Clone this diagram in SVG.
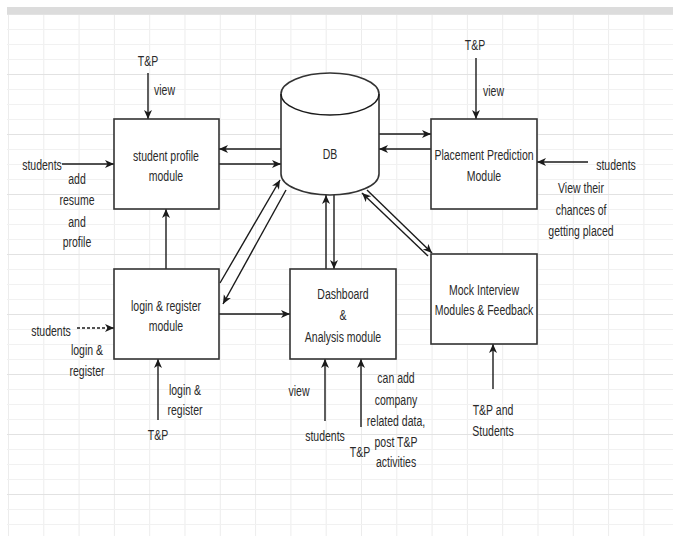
<svg xmlns="http://www.w3.org/2000/svg" width="673" height="536" viewBox="0 0 673 536">
<style>
.t{font-family:"Liberation Sans",Arial,sans-serif;font-size:15px;fill:#2a2a2a;text-anchor:middle}
.s{text-anchor:start}
.box{fill:#fff;stroke:#333;stroke-width:1.6}
.c{fill:none;stroke:#1a1a1a;stroke-width:1.4}
.dash{stroke-dasharray:3 2}
</style>
<defs>
<pattern id="grid" patternUnits="userSpaceOnUse" x="8" y="14" width="35.3" height="60">
<line x1="0.5" y1="0" x2="0.5" y2="60" stroke="#ececec" stroke-width="1"/>
<line x1="0" y1="0.5" x2="35.3" y2="0.5" stroke="#e2e2e2" stroke-width="1.2"/>
<line x1="0" y1="15.5" x2="35.3" y2="15.5" stroke="#f1f1f1" stroke-width="1"/>
<line x1="0" y1="30.5" x2="35.3" y2="30.5" stroke="#f1f1f1" stroke-width="1"/>
<line x1="0" y1="45.5" x2="35.3" y2="45.5" stroke="#f1f1f1" stroke-width="1"/>
</pattern>
<marker id="a" markerUnits="userSpaceOnUse" markerWidth="10" markerHeight="9" refX="9" refY="4" orient="auto">
<path d="M0,0 L9,4 L0,8 L2.5,4 z" fill="#1a1a1a"/>
</marker>
</defs>
<rect width="673" height="536" fill="#fff"/>
<rect x="7" y="14" width="666" height="522" fill="url(#grid)"/>
<rect x="7" y="7" width="666" height="7" fill="#dcdcdc"/>

<g id="connectors">
<line class="c" x1="148" y1="73" x2="148" y2="119" marker-end="url(#a)"/>
<line class="c" x1="62" y1="164" x2="114" y2="164" marker-end="url(#a)"/>
<line class="c" x1="281" y1="149" x2="219" y2="149" marker-end="url(#a)"/>
<line class="c" x1="219" y1="164" x2="281" y2="164" marker-end="url(#a)"/>
<line class="c" x1="166" y1="269" x2="166" y2="209" marker-end="url(#a)"/>
<line class="c" x1="220" y1="283" x2="280" y2="180" marker-end="url(#a)"/>
<line class="c" x1="286" y1="190" x2="223" y2="304" marker-end="url(#a)"/>
<line class="c" x1="219" y1="314" x2="290" y2="314" marker-end="url(#a)"/>
<line class="c dash" x1="77" y1="328" x2="114" y2="328" marker-end="url(#a)"/>
<line class="c" x1="158" y1="420" x2="158" y2="359" marker-end="url(#a)"/>
<line class="c" x1="326" y1="269" x2="326" y2="195" marker-end="url(#a)"/>
<line class="c" x1="334" y1="195" x2="334" y2="269" marker-end="url(#a)"/>
<line class="c" x1="325" y1="421" x2="325" y2="359" marker-end="url(#a)"/>
<line class="c" x1="361" y1="427" x2="361" y2="359" marker-end="url(#a)"/>
<line class="c" x1="379" y1="134" x2="431" y2="134" marker-end="url(#a)"/>
<line class="c" x1="431" y1="149" x2="379" y2="149" marker-end="url(#a)"/>
<line class="c" x1="476" y1="58" x2="476" y2="119" marker-end="url(#a)"/>
<line class="c" x1="588" y1="162" x2="537" y2="162" marker-end="url(#a)"/>
<line class="c" x1="428" y1="256" x2="362" y2="193" marker-end="url(#a)"/>
<line class="c" x1="367" y1="190" x2="432" y2="253" marker-end="url(#a)"/>
<line class="c" x1="493" y1="389" x2="493" y2="344" marker-end="url(#a)"/>
</g>

<g id="db">
<path d="M281,94 a49,21 0 0 1 98,0 v80 a49,21 0 0 1 -98,0 z" class="box"/>
<path d="M281,94 a49,21 0 0 0 98,0" class="c" stroke="#333" stroke-width="1.6"/>
<text class="t" transform="translate(330 159) scale(.7 1)">DB</text>
</g>
<g id="student-profile">
<rect class="box" x="114" y="119" width="105" height="90"/>
<text class="t" transform="translate(166 161) scale(.7 1)">student profile<tspan x="0" dy="20">module</tspan></text>
</g>
<g id="login-register">
<rect class="box" x="114" y="269" width="105" height="90"/>
<text class="t" transform="translate(166 311) scale(.7 1)">login &amp; register<tspan x="0" dy="20">module</tspan></text>
</g>
<g id="dashboard">
<rect class="box" x="290" y="269" width="106" height="90"/>
<text class="t" transform="translate(343 299) scale(.7 1)">Dashboard<tspan x="0" dy="21">&amp;</tspan><tspan x="0" dy="22">Analysis module</tspan></text>
</g>
<g id="placement">
<rect class="box" x="431" y="119" width="106" height="90"/>
<text class="t" transform="translate(484 160) scale(.7 1)">Placement Prediction<tspan x="0" dy="21">Module</tspan></text>
</g>
<g id="mock-interview">
<rect class="box" x="431" y="254" width="106" height="90"/>
<text class="t" transform="translate(484 295) scale(.7 1)">Mock Interview<tspan x="0" dy="20">Modules &amp; Feedback</tspan></text>
</g>

<g id="labels">
<text class="t" transform="translate(148 66) scale(.7 1)">T&amp;P</text>
<text class="t s" transform="translate(154 95) scale(.7 1)">view</text>
<text class="t" transform="translate(42 170) scale(.7 1)">students</text>
<text class="t" transform="translate(77 184) scale(.7 1)">add<tspan x="0" dy="21">resume</tspan><tspan x="0" dy="22">and</tspan><tspan x="0" dy="20">profile</tspan></text>
<text class="t" transform="translate(51 336) scale(.7 1)">students</text>
<text class="t" transform="translate(87 355) scale(.7 1)">login &amp;<tspan x="0" dy="21">register</tspan></text>
<text class="t" transform="translate(185 395) scale(.7 1)">login &amp;<tspan x="0" dy="20">register</tspan></text>
<text class="t" transform="translate(158 440) scale(.7 1)">T&amp;P</text>
<text class="t" transform="translate(299 396) scale(.7 1)">view</text>
<text class="t" transform="translate(325 441) scale(.7 1)">students</text>
<text class="t" transform="translate(360 457) scale(.7 1)">T&amp;P</text>
<text class="t" transform="translate(396 383) scale(.7 1)">can add<tspan x="0" dy="22">company</tspan><tspan x="0" dy="21">related data,</tspan><tspan x="0" dy="21">post T&amp;P</tspan><tspan x="0" dy="20">activities</tspan></text>
<text class="t" transform="translate(493 415) scale(.7 1)">T&amp;P and<tspan x="0" dy="21">Students</tspan></text>
<text class="t" transform="translate(475 50) scale(.7 1)">T&amp;P</text>
<text class="t s" transform="translate(483 96) scale(.7 1)">view</text>
<text class="t" transform="translate(616 170) scale(.7 1)">students</text>
<text class="t" transform="translate(581 193) scale(.7 1)">View their<tspan x="0" dy="22">chances of</tspan><tspan x="0" dy="21">getting placed</tspan></text>
</g>
</svg>
